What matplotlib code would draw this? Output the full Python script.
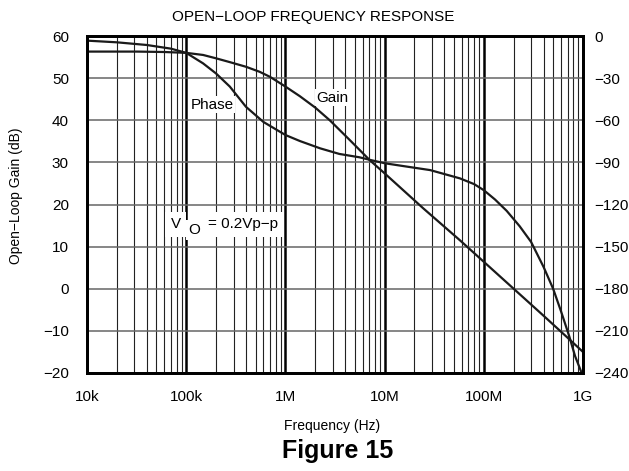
import matplotlib
matplotlib.use("Agg")
import matplotlib.pyplot as plt
from matplotlib.ticker import LogLocator, NullFormatter

plt.rcParams['font.family'] = ['Liberation Sans', 'DejaVu Sans']

# gain curve (dB)
gain_freq = [10e3, 32e3, 60e3, 100e3, 148e3, 200e3, 275e3, 400e3, 550e3, 700e3,
             1e6, 1.4e6, 2e6, 2.8e6, 4.5e6, 7.1e6, 10e6, 24.5e6, 57.5e6, 100e6,
             200e6, 400e6, 728e6, 1e9]
gain_db = [56.3, 56.3, 56.2, 56.0, 55.5, 54.7, 53.8, 52.7, 51.5, 50.3,
           48.0, 45.7, 43.0, 40.0, 35.2, 30.5, 27.4, 19.1, 11.5, 6.4,
           0.0, -6.4, -12.0, -15.0]

# phase curve (degrees)
phase_freq = [10e3, 20e3, 40e3, 70e3, 100e3, 148e3, 200e3, 275e3, 400e3, 600e3,
              1e6, 1.4e6, 2.24e6, 3.5e6, 5.6e6, 7.1e6, 10e6, 15e6, 28.8e6, 57.5e6,
              80e6, 100e6, 130e6, 170e6, 230e6, 300e6, 400e6, 500e6, 600e6, 728e6,
              832e6, 970e6]
phase_deg = [-3.3, -4.5, -6.4, -9.0, -12.0, -19.5, -26.7, -36.0, -50.4, -61.2,
             -70.5, -74.8, -80.0, -84.0, -86.4, -88.2, -90.6, -92.5, -95.5, -101.4,
             -105.5, -109.8, -116.5, -124.5, -135.5, -146.7, -164.4, -180.0, -196.0, -214.0,
             -228.0, -240.0]

x_ticks = [1e4, 1e5, 1e6, 1e7, 1e8, 1e9]
x_labels = ['10k', '100k', '1M', '10M', '100M', '1G']
gain_ticks = [60, 50, 40, 30, 20, 10, 0, -10, -20]
phase_ticks = [0, -30, -60, -90, -120, -150, -180, -210, -240]

fig = plt.figure(figsize=(6.29, 4.71), dpi=100)
ax = fig.add_axes([87/629, 1-373/471, 496/629, 337/471])

ax.set_xscale('log')
ax.set_xlim(1e4, 1e9)
ax.set_ylim(-20, 60)
ax.set_xticks(x_ticks)
ax.set_xticklabels(x_labels)
ax.xaxis.set_minor_locator(LogLocator(base=10, subs=range(2, 10)))
ax.xaxis.set_minor_formatter(NullFormatter())
ax.set_yticks(gain_ticks)
ax.set_yticklabels([str(v).replace('-', '\u2212') for v in gain_ticks])

# grid: thick decades, thin minors, grey horizontals
ax.grid(which='major', axis='x', color='black', lw=1.8)
ax.grid(which='minor', axis='x', color='#222222', lw=0.8)
ax.grid(which='major', axis='y', color='#666666', lw=1.1)
ax.set_axisbelow(True)
ax.tick_params(which='both', length=0, labelsize=11)
ax.tick_params(axis='x', pad=12)
ax.tick_params(axis='y', pad=13)
for s in ax.spines.values():
    s.set_linewidth(2)

ax.plot(gain_freq, gain_db, color='#1a1a1a', lw=1.6)

ax2 = ax.twinx()
ax2.set_ylim(-240, 0)
ax2.set_yticks(phase_ticks)
ax2.set_yticklabels([str(v).replace('-', '\u2212') for v in phase_ticks])
ax2.tick_params(length=0, labelsize=11, pad=8)
for s in ax2.spines.values():
    s.set_linewidth(2)
ax2.plot(phase_freq, phase_deg, color='#1a1a1a', lw=1.6)

box = dict(facecolor='white', edgecolor='none', pad=1)
ax2.text(1.1e5, -49, 'Phase', fontsize=11, va='center', bbox=box)
ax2.text(2.05e6, -43.8, 'Gain', fontsize=11, va='center', bbox=box)
ax2.text(7.0e4, -134, 'V', fontsize=11, va='center',
         bbox=dict(facecolor='white', edgecolor='none', pad=4))
ax2.text(1.06e5, -138.3, 'O', fontsize=11, va='center',
         bbox=dict(facecolor='white', edgecolor='none', pad=2))
ax2.text(1.67e5, -134, '= 0.2Vp\u2212p', fontsize=11, va='center',
         bbox=dict(facecolor='white', edgecolor='none', pad=4))

fig.text(172/629, 1-17/471, 'OPEN\u2212LOOP FREQUENCY RESPONSE', fontsize=11,
         ha='left', va='center')
fig.text(16/629, 1-196/471, 'Open\u2212Loop Gain (dB)', fontsize=10,
         rotation=90, ha='center', va='center')
fig.text(332/629, 1-426/471, 'Frequency (Hz)', fontsize=10,
         ha='center', va='center')
fig.text(338/629, 1-451/471, 'Figure 15', fontsize=18, fontweight='bold',
         ha='center', va='center')

fig.savefig('out.png', dpi=100)
